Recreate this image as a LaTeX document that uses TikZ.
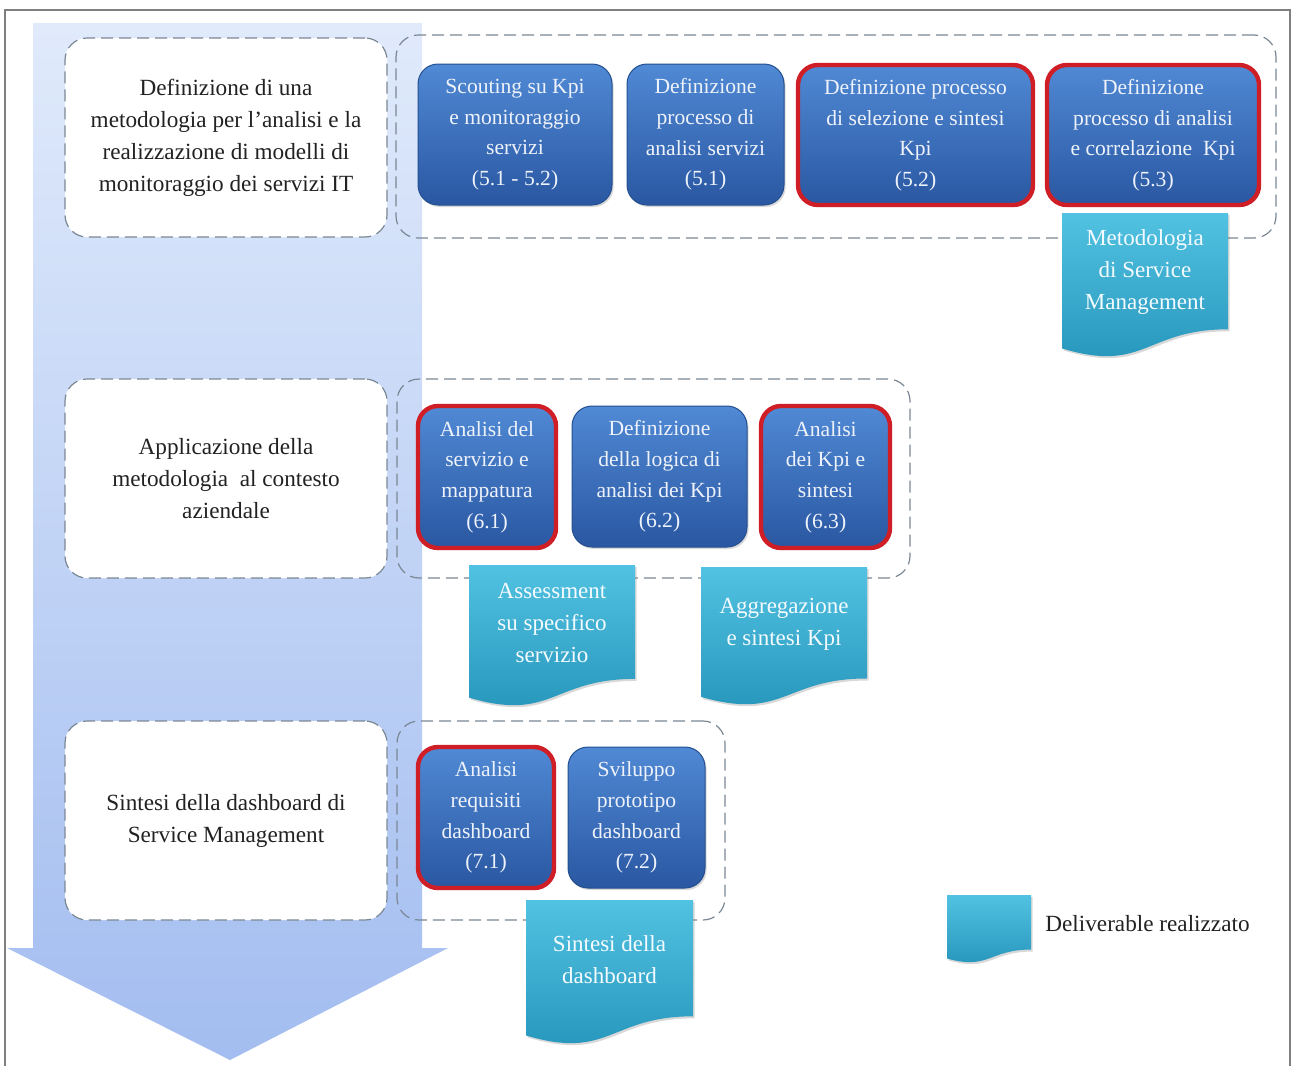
\documentclass[tikz,border=0pt]{standalone}
\usepackage{fontspec}
\setmainfont{Liberation Serif}
\usetikzlibrary{shadows}
\definecolor{dashgray}{HTML}{7A8794}
\definecolor{framegray}{HTML}{7F7F7F}
\definecolor{arrowtop}{HTML}{E0EAFB}
\definecolor{arrowbot}{HTML}{A3BDF0}
\definecolor{bluetop}{HTML}{5089D4}
\definecolor{bluebot}{HTML}{2A57A2}
\definecolor{blueedge}{HTML}{24508F}
\definecolor{rededge}{HTML}{CF1E26}
\definecolor{dlvtop}{HTML}{52C2E2}
\definecolor{dlvbot}{HTML}{2493B9}
\definecolor{dlvtxt}{HTML}{F4FBFE}
\definecolor{boxtxt}{HTML}{EEF2FA}
\definecolor{darktxt}{HTML}{222222}
\tikzset{
  dashbox/.style={draw=dashgray, dash pattern=on 6pt off 3pt, line width=0.6pt, rounded corners=11pt},
  leftbox/.style={dashbox, fill=white, align=center, inner sep=0pt, outer sep=0pt,
     text=darktxt, font=\fontsize{11.6}{16}\selectfont},
  groupbox/.style={dashbox, inner sep=0pt, outer sep=0pt},
  bluebox/.style={rounded corners=10pt, top color=bluetop, bottom color=bluebot,
     draw=blueedge, line width=0.5pt, text=boxtxt, align=center, inner sep=0pt, outer sep=0pt,
     font=\fontsize{10.8}{15.3}\selectfont,
     drop shadow={opacity=0.3, shadow xshift=0.8pt, shadow yshift=-1pt}},
  redbox/.style={bluebox, draw=rededge, line width=2.2pt},
  dlvfill/.style={top color=dlvtop, bottom color=dlvbot,
     drop shadow={opacity=0.3, shadow xshift=0.8pt, shadow yshift=-1pt}},
  dlvtext/.style={text=dlvtxt, align=center, inner sep=0pt, font=\fontsize{11.5}{16}\selectfont},
}
% box: style, name, x1, y1, x2, y2, text (pixel coordinates)
\newcommand\bx[7]{\node[#1, minimum width={(#5-#3)*0.5pt}, minimum height={(#6-#4)*0.5pt}] (#2) at ({(#3+#5)/2},{(#4+#6)/2}) {#7};}
% deliverable: name, x1, y1, x2, y2, text
\newcommand\dlv[6]{%
  \path[dlvfill] (#2,#3) -- (#4,#3) -- (#4,{#3+0.802*(#5-#3)})
     .. controls ({(#2+#4)/2},{#3+0.802*(#5-#3)}) and ({(#2+#4)/2},{#3+1.107*(#5-#3)}) .. (#2,{#3+0.934*(#5-#3)}) -- cycle;
  \node[dlvtext] (#1) at ({(#2+#4)/2},{#3+0.41*(#5-#3)}) {#6};}
\begin{document}
\begin{tikzpicture}[x=0.5pt,y=-0.5pt]
\useasboundingbox (0,0) rectangle (1293,1066);
\fill[white] (0,0) rectangle (1293,1066);
% frame (open at the bottom)
\draw[framegray, line width=0.6pt] (5,1066) -- (5,10) -- (1290,10) -- (1290,1066);
% big arrow
\path[top color=arrowtop, bottom color=arrowbot]
  (33,23) -- (422,23) -- (422,948) -- (448,948) -- (230,1060) -- (7,948) -- (33,948) -- cycle;
% groups
\bx{groupbox}{g1}{396}{35}{1276}{238}{}
\bx{groupbox}{g2}{397}{379}{910}{578}{}
\bx{groupbox}{g3}{397}{721}{725}{920}{}
% left boxes
\bx{leftbox}{l1}{65}{38}{387}{237}{Definizione di una\\metodologia per l'analisi e la\\realizzazione di modelli di\\monitoraggio dei servizi IT}
\bx{leftbox}{l2}{65}{379}{387}{578}{Applicazione della\\metodologia\ \ al contesto\\aziendale}
\bx{leftbox}{l3}{65}{721}{387}{920}{Sintesi della dashboard di\\Service Management}
% row 1
\bx{bluebox}{b11}{418}{64}{612}{205}{Scouting su Kpi\\e monitoraggio\\servizi\\(5.1 - 5.2)}
\bx{bluebox}{b12}{627}{64}{784}{205}{Definizione\\processo di\\analisi servizi\\(5.1)}
\bx{redbox}{b13}{798}{65}{1033}{205}{Definizione processo\\di selezione e sintesi\\Kpi\\(5.2)}
\bx{redbox}{b14}{1047}{65}{1259}{205}{Definizione\\processo di analisi\\e correlazione\ \ Kpi\\(5.3)}
% row 2
\bx{redbox}{b21}{418}{406}{556}{548}{Analisi del\\servizio e\\mappatura\\(6.1)}
\bx{bluebox}{b22}{572}{406}{747}{547}{Definizione\\della logica di\\analisi dei Kpi\\(6.2)}
\bx{redbox}{b23}{761}{406}{890}{548}{Analisi\\dei Kpi e\\sintesi\\(6.3)}
% row 3
\bx{redbox}{b31}{418}{747}{554}{888}{Analisi\\requisiti\\dashboard\\(7.1)}
\bx{bluebox}{b32}{568}{747}{705}{888}{Sviluppo\\prototipo\\dashboard\\(7.2)}
% deliverables
\dlv{d1}{1062}{213}{1228}{358}{Metodologia\\di Service\\Management}
\dlv{d2}{469}{565}{635}{707}{Assessment\\su specifico\\servizio}
\dlv{d3}{701}{567}{867}{706}{Aggregazione\\e sintesi Kpi}
\dlv{d4}{526}{900}{693}{1045}{Sintesi della\\dashboard}
% legend
\dlv{dl}{947}{895}{1031}{963}{}
\node[anchor=west, text=darktxt, inner sep=0pt, font=\fontsize{11.6}{16}\selectfont] (legend) at (1045,924) {Deliverable realizzato};
\end{tikzpicture}
\end{document}
